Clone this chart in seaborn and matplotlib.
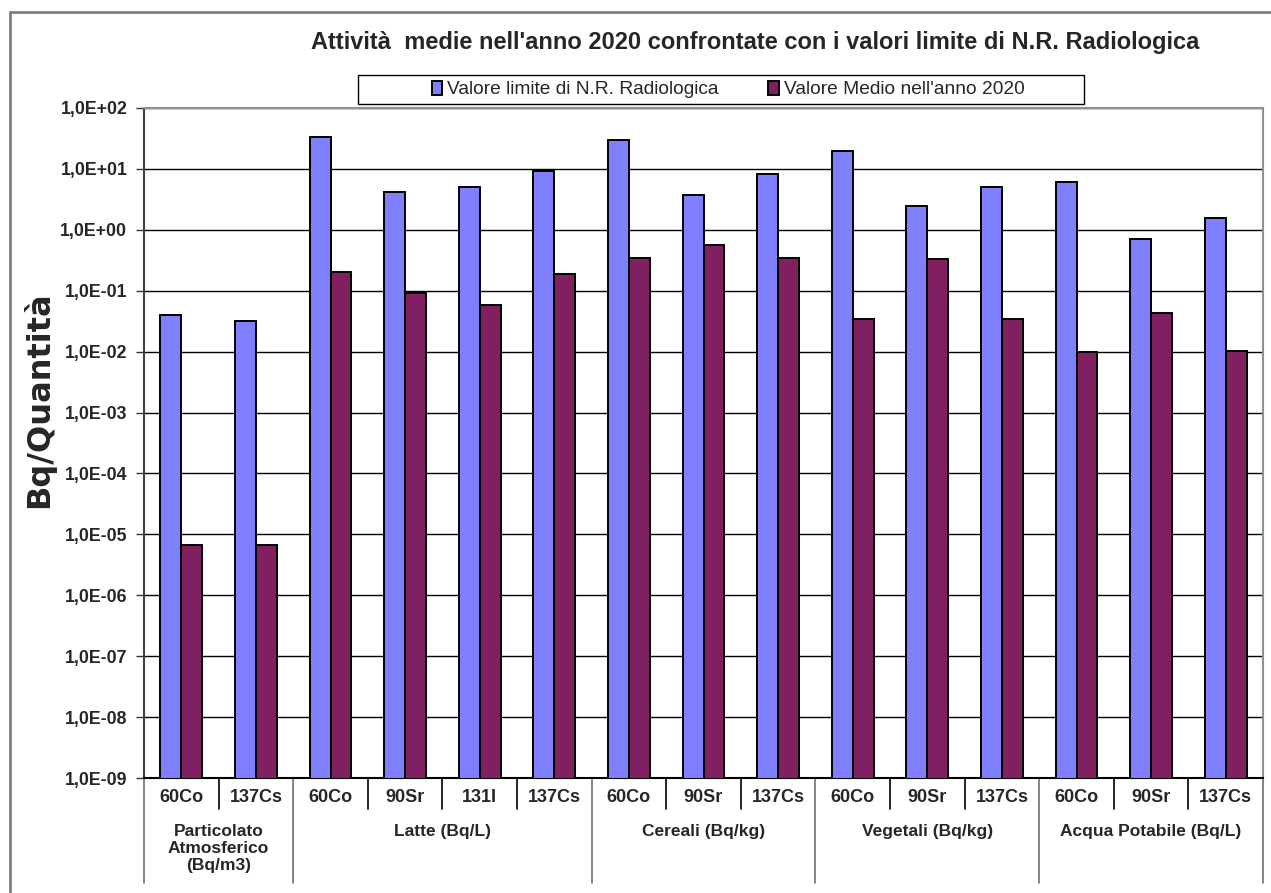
import numpy as np
import pandas as pd
import matplotlib.pyplot as plt
from matplotlib.lines import Line2D
from matplotlib.patches import Rectangle
from matplotlib.ticker import FixedLocator, NullLocator
import seaborn as sns

# dati
nuclidi = ['60Co', '137Cs',
           '60Co', '90Sr', '131I', '137Cs',
           '60Co', '90Sr', '137Cs',
           '60Co', '90Sr', '137Cs',
           '60Co', '90Sr', '137Cs']
gruppi = ['Particolato\nAtmosferico\n(Bq/m3)', 'Latte (Bq/L)', 'Cereali (Bq/kg)',
          'Vegetali (Bq/kg)', 'Acqua Potabile (Bq/L)']
n_per_gruppo = [2, 4, 3, 3, 3]
valore_limite = [0.04, 0.032, 33, 4.1, 5.1, 9.2, 30, 3.7, 8.2, 20, 2.5, 5.1, 6.1, 0.72, 1.57]
valore_medio = [6.8e-6, 6.8e-6, 0.2, 0.092, 0.059, 0.185, 0.34, 0.57, 0.34, 0.034, 0.33, 0.034, 0.0099, 0.043, 0.0104]
serie = ['Valore limite di N.R. Radiologica', "Valore Medio nell'anno 2020"]
colori = ['#8080FF', '#802060']
tick_y = [1e-9, 1e-8, 1e-7, 1e-6, 1e-5, 1e-4, 1e-3, 1e-2, 1e-1, 1e0, 1e1, 1e2]
tick_y_lab = ['1,0E-09', '1,0E-08', '1,0E-07', '1,0E-06', '1,0E-05', '1,0E-04', '1,0E-03',
              '1,0E-02', '1,0E-01', '1,0E+00', '1,0E+01', '1,0E+02']

pos = [str(i) for i in range(len(nuclidi))]
df = pd.DataFrame({
    'pos': pos * 2,
    'valore': valore_limite + valore_medio,
    'serie': [serie[0]] * len(pos) + [serie[1]] * len(pos),
})

sns.set_style('white')
plt.rcParams['font.family'] = ['Liberation Sans', 'DejaVu Sans']

fig = plt.figure(figsize=(12.71, 8.93), dpi=100)
W, H = 1271, 893
ax = fig.add_axes([144 / W, 1 - 778 / H, (1263 - 144) / W, (778 - 108) / H])

ax.set_yscale('log')
sns.barplot(data=df, x='pos', y='valore', hue='serie', order=pos, hue_order=serie,
            palette=colori, width=0.56, edgecolor='black', linewidth=1.4,
            saturation=1, legend=True, ax=ax, zorder=3)
ax.set_ylim(1e-9, 1e2)
ax.set_xlim(-0.5, len(pos) - 0.5)
ax.yaxis.set_major_locator(FixedLocator(tick_y))
ax.yaxis.set_minor_locator(NullLocator())
ax.set_yticklabels(tick_y_lab, fontsize=12.8, fontweight='bold')
ax.tick_params(axis='y', length=6, width=1, color='#333333', direction='out', left=True, pad=6)
ax.grid(axis='y', color='black', linewidth=1, zorder=0)
ax.set_axisbelow(True)
ax.set_xticks([])
ax.set_xlabel('')
ax.set_ylabel('Bq/Quantità', fontsize=23, fontweight='bold', family='DejaVu Sans')
ax.yaxis.set_label_coords((55 - 144) / 1119, (778 - 400) / 670)
for s in ['top', 'right']:
    ax.spines[s].set_color('#909090')
    ax.spines[s].set_linewidth(1.5)
ax.spines['left'].set_color('#404040')
ax.spines['left'].set_linewidth(1.5)
ax.spines['bottom'].set_color('black')
ax.spines['bottom'].set_linewidth(1.5)

# tabella delle categorie sotto l'asse
trans = ax.get_xaxis_transform()
r1 = -31 / 670
r2 = -105 / 670
for i, nome in enumerate(nuclidi):
    ax.text(i, -19 / 670, nome, transform=trans, ha='center', va='center',
            fontsize=13, fontweight='bold')
bordi = np.cumsum([0] + n_per_gruppo)
for i in range(len(nuclidi) + 1):
    y_fine = r2 if i in bordi else r1
    col = '#707070' if i in bordi else 'black'
    ax.plot([i - 0.5, i - 0.5], [0, y_fine], transform=trans, color=col,
            linewidth=1.2, clip_on=False)
for g, nome in enumerate(gruppi):
    xc = (bordi[g] + bordi[g + 1] - 1) / 2
    ax.text(xc, -(824 - 778) / 670, nome, transform=trans, ha='center', va='top',
            fontsize=12.5, fontweight='bold', linespacing=1.15)

# legenda
leg = ax.get_legend()
handles = leg.legend_handles
leg.remove()
fig.legend(handles, serie, loc='center', bbox_to_anchor=(728 / W, 1 - 89.5 / H),
           ncol=2, frameon=False, fontsize=13.8,
           handlelength=0.55, handleheight=0.8, handletextpad=0.25, columnspacing=2.6,
           borderpad=0.4, borderaxespad=0)
fig.add_artist(Rectangle((358 / W, 1 - 104 / H), (1084 - 358) / W, 29 / H,
                         transform=fig.transFigure, facecolor='none', edgecolor='black',
                         linewidth=1.0))

fig.text(755 / W, 1 - 42 / H,
         "Attività  medie nell'anno 2020 confrontate con i valori limite di N.R. Radiologica",
         ha='center', va='center', fontsize=17, fontweight='bold')

# cornice esterna
fig.add_artist(Line2D([10 / W, 10 / W], [0, 1 - 12 / H], transform=fig.transFigure,
                      color='#808080', linewidth=2))
fig.add_artist(Line2D([10 / W, 1], [1 - 12 / H, 1 - 12 / H], transform=fig.transFigure,
                      color='#808080', linewidth=2))

fig.savefig('out.png', dpi=100, facecolor='white')
